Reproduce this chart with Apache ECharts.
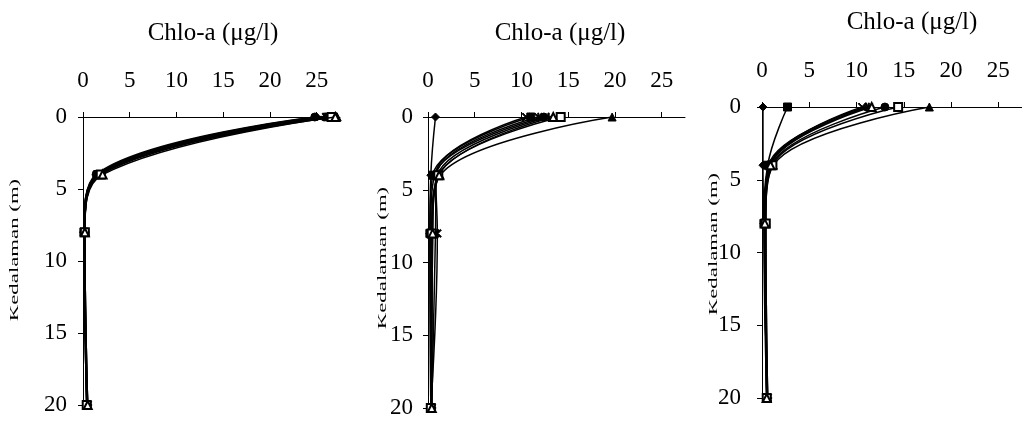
<!DOCTYPE html>
<html><head><meta charset="utf-8">
<script src="https://cdn.jsdelivr.net/npm/echarts@6/dist/echarts.min.js"></script>
<style>html,body{margin:0;padding:0;background:#fff}#c{width:1022px;height:421px}</style>
</head><body><div id="c"></div>
<script>
const depths = [0, 4, 8, 20];
const xTicks = [0, 5, 10, 15, 20, 25];
const yTicks = [0, 5, 10, 15, 20];
const xTitle = 'Chlo-a (\u03bcg/l)';
const yTitle = 'Kedalaman (m)';

const X_PATH = 'path://M0,1L1,0L5,4L9,0L10,1L6,5L10,9L9,10L5,6L1,10L0,9L4,5Z';
const STAR_PATH = 'path://M0,1L1,0L5,4L9,0L10,1L6,5L10,9L9,10L5,6L1,10L0,9L4,5ZM4.4,0L5.6,0L5.6,10L4.4,10Z';
const PLUS_PATH = 'path://M4.2,0L5.8,0L5.8,4.2L10,4.2L10,5.8L5.8,5.8L5.8,10L4.2,10L4.2,5.8L0,5.8L0,4.2L4.2,4.2Z';
const markers = ['diamond', 'rect', 'triangle', X_PATH, STAR_PATH, 'circle', PLUS_PATH, 'emptyRect', 'emptyTriangle'];

// Chlo-a values at depths 0, 4, 8, 20 m, one row per marker
const panel1 = [
  [25.0, 1.5, 0.1, 0.4],
  [26.8, 1.6, 0.1, 0.4],
  [27.2, 1.8, 0.2, 0.5],
  [26.3, 1.5, 0.2, 0.4],
  [26.0, 1.7, 0.1, 0.5],
  [24.8, 1.4, 0.1, 0.4],
  [25.8, 1.6, 0.2, 0.5],
  [26.6, 1.9, 0.2, 0.4],
  [27.0, 2.1, 0.2, 0.5]
];
const panel2 = [
  [0.8, 0.3, 0.2, 0.3],
  [11.0, 0.5, 0.2, 0.3],
  [19.7, 1.3, 0.4, 0.4],
  [10.5, 0.8, 1.0, 0.3],
  [11.8, 0.9, 0.8, 0.4],
  [12.4, 0.7, 0.3, 0.3],
  [12.9, 1.0, 0.5, 0.4],
  [14.2, 1.1, 0.4, 0.3],
  [13.4, 1.2, 0.5, 0.4]
];
const panel3 = [
  [0.1, 0.1, 0.2, 0.5],
  [2.7, 0.6, 0.2, 0.5],
  [17.7, 1.2, 0.4, 0.6],
  [10.6, 0.8, 0.3, 0.5],
  [11.3, 0.9, 0.4, 0.6],
  [13.0, 1.0, 0.3, 0.5],
  [11.0, 0.7, 0.3, 0.6],
  [14.4, 1.1, 0.4, 0.5],
  [11.6, 0.9, 0.3, 0.5]
];
const panels = [panel1, panel2, panel3];

const layout = [
  {left: 83, top: 117, width: 257, height: 288, yLabelMargin: 16, titleX: 208, titleY: 16, nameX: 15, nameY: 250},
  {left: 428, top: 117, width: 257, height: 291, yLabelMargin: 15, titleX: 555, titleY: 16, nameX: 383, nameY: 258},
  {left: 762, top: 107, width: 262, height: 291, yLabelMargin: 21, titleX: 907, titleY: 5, nameX: 714, nameY: 244}
];
const FONT = 'Liberation Serif';

const grid = [], xAxis = [], yAxis = [], series = [], title = [], graphic = [];
layout.forEach((L, i) => {
  grid.push({left: L.left, top: L.top, width: L.width, height: L.height, containLabel: false});
  title.push({text: xTitle, left: L.titleX, top: L.titleY, textAlign: 'center',
    textStyle: {fontFamily: FONT, fontSize: 25, fontWeight: 'normal', color: '#000'}});
  graphic.push({type: 'text', x: L.nameX, y: L.nameY, rotation: Math.PI / 2, scaleX: 1.9,
    style: {text: yTitle, font: '12px "Liberation Serif"', fill: '#000', align: 'center', verticalAlign: 'middle'}});
  xAxis.push({gridIndex: i, type: 'value', position: 'top', min: 0, max: 27.5,
    axisLine: {show: true, onZero: false, lineStyle: {color: '#000', width: 1}},
    axisTick: {show: true, length: 5, customValues: xTicks, lineStyle: {color: '#000'}},
    axisLabel: {customValues: xTicks, margin: 25, fontFamily: FONT, fontSize: 23, color: '#000'},
    splitLine: {show: false}});
  yAxis.push({gridIndex: i, type: 'value', inverse: true, min: 0, max: 20, interval: 5,
    axisLine: {show: true, onZero: false, lineStyle: {color: '#000', width: 1}},
    axisTick: {show: true, length: 5, lineStyle: {color: '#000'}},
    axisLabel: {margin: L.yLabelMargin, fontFamily: FONT, fontSize: 23, color: '#000'},
    splitLine: {show: false}});
  panels[i].forEach((row, k) => {
    series.push({type: 'line', xAxisIndex: i, yAxisIndex: i, smooth: 0.4,
      data: row.map((v, j) => [v, depths[j]]),
      symbol: markers[k], symbolSize: 8,
      lineStyle: {color: '#000', width: 1.5},
      itemStyle: {color: '#000', borderColor: '#000', borderWidth: 1},
      emphasis: {disabled: true}, animation: false, z: 2 + k});
  });
});

const chart = echarts.init(document.getElementById('c'), null, {renderer: 'canvas'});
chart.setOption({backgroundColor: '#fff', animation: false, title, grid, xAxis, yAxis, series, graphic});
</script></body></html>
